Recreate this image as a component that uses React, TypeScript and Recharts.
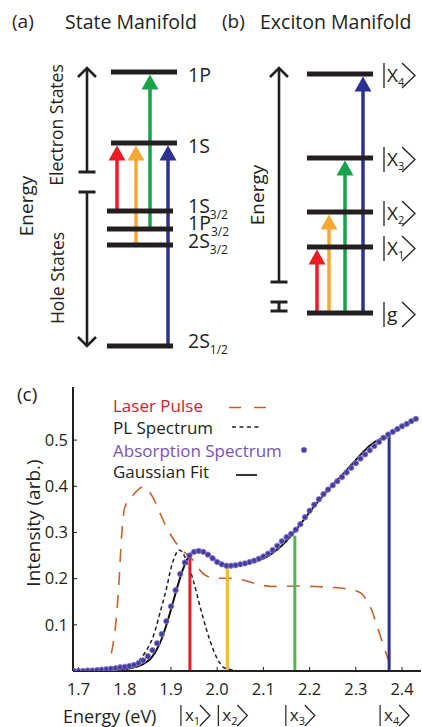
import React from 'react';
import {
    ComposedChart,
    Legend,
    Line,
    ReferenceDot,
    ReferenceLine,
    Scatter,
    XAxis,
    YAxis
} from 'recharts';

const FONT = '"Open Sans", "Noto Sans", sans-serif';
const INK = '#231f20';

const RED = '#ed1c24';
const ORANGE = '#f8a733';
const GREEN = '#17a34a';
const BLUE = '#2e3192';

// (a) single particle states, energy in arbitrary units
const stateLevels = [
    { id: '1P', band: 'e', energy: 2.88, name: '1P', sub: '' },
    { id: '1S', band: 'e', energy: 2.17, name: '1S', sub: '' },
    { id: '1S3/2', band: 'h', energy: 1.49, name: '1S', sub: '3/2' },
    { id: '1P3/2', band: 'h', energy: 1.31, name: '1P', sub: '3/2' },
    { id: '2S3/2', band: 'h', energy: 1.15, name: '2S', sub: '3/2' },
    { id: '2S1/2', band: 'h', energy: 0.14, name: '2S', sub: '1/2' }
];
const stateTransitions = [
    { from: '1S3/2', to: '1S', color: RED },
    { from: '2S3/2', to: '1S', color: ORANGE },
    { from: '1P3/2', to: '1P', color: GREEN },
    { from: '2S1/2', to: '1S', color: BLUE }
];
const stateBands = [
    { name: 'Electron States', from: 1.88, to: 2.92 },
    { name: 'Hole States', from: 1.68, to: 0.14 }
];

// (b) exciton states
const excitonLevels = [
    { id: 'X4', energy: 2.86, name: 'X', sub: '4' },
    { id: 'X3', energy: 2.02, name: 'X', sub: '3' },
    { id: 'X2', energy: 1.48, name: 'X', sub: '2' },
    { id: 'X1', energy: 1.13, name: 'X', sub: '1' },
    { id: 'g', energy: 0.47, name: 'g', sub: '' }
];
const excitonTransitions = [
    { from: 'g', to: 'X1', color: RED },
    { from: 'g', to: 'X2', color: ORANGE },
    { from: 'g', to: 'X3', color: GREEN },
    { from: 'g', to: 'X4', color: BLUE }
];
const excitonAxis = { from: 0.78, to: 2.92 };
const excitonBreak = { from: 0.58, to: 0.49 };

// (c) spectra
const absorptionEnergy = [
    1.69, 1.70, 1.71, 1.72, 1.73, 1.74, 1.75, 1.76, 1.77, 1.78,
    1.79, 1.80, 1.81, 1.82, 1.83, 1.84, 1.85, 1.86, 1.87, 1.88,
    1.89, 1.90, 1.91, 1.92, 1.93, 1.94, 1.95, 1.96, 1.97, 1.98,
    1.99, 2.00, 2.01, 2.02, 2.03, 2.04, 2.05, 2.06, 2.07, 2.08,
    2.09, 2.10, 2.11, 2.12, 2.13, 2.14, 2.15, 2.16, 2.17, 2.18,
    2.19, 2.20, 2.21, 2.22, 2.23, 2.24, 2.25, 2.26, 2.27, 2.28,
    2.29, 2.30, 2.31, 2.32, 2.33, 2.34, 2.35, 2.36, 2.37, 2.38,
    2.39, 2.40, 2.41, 2.42, 2.43
];
const absorptionValue = [
    0.000, 0.000, 0.000, 0.001, 0.001, 0.002, 0.003, 0.004, 0.005, 0.006,
    0.008, 0.009, 0.011, 0.013, 0.017, 0.023, 0.032, 0.045, 0.060, 0.080,
    0.108, 0.140, 0.175, 0.210, 0.235, 0.250, 0.258, 0.260, 0.258, 0.252,
    0.244, 0.236, 0.231, 0.228, 0.228, 0.229, 0.231, 0.233, 0.236, 0.239,
    0.243, 0.248, 0.254, 0.262, 0.271, 0.281, 0.290, 0.297, 0.306, 0.318,
    0.333, 0.347, 0.360, 0.372, 0.383, 0.393, 0.402, 0.411, 0.420, 0.430,
    0.440, 0.450, 0.460, 0.469, 0.478, 0.487, 0.496, 0.505, 0.512, 0.518,
    0.524, 0.530, 0.535, 0.541, 0.546
];

const fitEnergy = [
    1.742, 1.78, 1.80, 1.82, 1.84, 1.855, 1.865, 1.875, 1.885, 1.895,
    1.905, 1.915, 1.925, 1.935, 1.945, 1.955, 1.965, 1.975, 1.99, 2.005,
    2.02, 2.035, 2.05, 2.07, 2.09, 2.11, 2.13, 2.15, 2.17, 2.19,
    2.21, 2.23, 2.25, 2.27, 2.29, 2.31, 2.33, 2.35, 2.367
];
const fitValue = [
    0.001, 0.002, 0.004, 0.008, 0.015, 0.026, 0.039, 0.058, 0.084, 0.116,
    0.151, 0.186, 0.218, 0.242, 0.256, 0.262, 0.261, 0.256, 0.245, 0.235,
    0.229, 0.228, 0.230, 0.234, 0.240, 0.249, 0.263, 0.282, 0.305, 0.331,
    0.357, 0.381, 0.403, 0.424, 0.446, 0.468, 0.488, 0.501, 0.505
];

const plEnergy = [
    1.76, 1.80, 1.82, 1.837, 1.85, 1.862, 1.876, 1.891, 1.901, 1.910,
    1.917, 1.923, 1.930, 1.940, 1.948, 1.963, 1.977, 1.992, 2.005, 2.015,
    2.03, 2.05
];
const plValue = [
    0.000, 0.005, 0.012, 0.030, 0.050, 0.076, 0.125, 0.182, 0.226, 0.252,
    0.262, 0.259, 0.247, 0.222, 0.197, 0.139, 0.089, 0.045, 0.018, 0.007,
    0.003, 0.000
];

const laserEnergy = [
    1.771, 1.782, 1.788, 1.793, 1.800, 1.818, 1.840, 1.850, 1.862, 1.875,
    1.888, 1.900, 1.915, 1.930, 1.948, 1.960, 1.975, 1.995, 2.02, 2.04,
    2.06, 2.08, 2.10, 2.13, 2.17, 2.21, 2.25, 2.28, 2.30, 2.315,
    2.325, 2.335, 2.345, 2.355, 2.365, 2.375, 2.385, 2.41, 2.44
];
const laserValue = [
    0.038, 0.118, 0.200, 0.290, 0.354, 0.381, 0.399, 0.392, 0.374, 0.345,
    0.316, 0.294, 0.272, 0.256, 0.240, 0.222, 0.207, 0.201, 0.201, 0.200,
    0.196, 0.190, 0.185, 0.183, 0.184, 0.183, 0.181, 0.178, 0.174, 0.165,
    0.150, 0.130, 0.100, 0.070, 0.040, 0.012, 0.000, 0.000, 0.000
];

const transitionEnergy = [1.941, 2.022, 2.168, 2.372];
const transitionTop = [0.25, 0.227, 0.293, 0.508];
const transitionColor = ['#e41e26', '#fbb534', '#4cb84e', '#2e3192'];
const ketIndex = ['1', '2', '3', '4'];

const energyTicks = [1.7, 1.8, 1.9, 2.0, 2.1, 2.2, 2.3, 2.4];
const intensityTicks = [0.1, 0.2, 0.3, 0.4, 0.5];

const legendRows = [
    { name: 'Laser Pulse', color: '#d7202b', sample: 'laser' },
    { name: 'PL Spectrum', color: INK, sample: 'pl' },
    { name: 'Absorption Spectrum', color: '#7a52b3', sample: 'dot' },
    { name: 'Gaussian Fit', color: INK, sample: 'fit' }
];

const zip = (xs: number[], ys: number[]) => xs.map((e, i) => ({ e, v: ys[i] }));

const absorption = zip(absorptionEnergy, absorptionValue);
const fit = zip(fitEnergy, fitValue);
const pl = zip(plEnergy, plValue);
const laser = zip(laserEnergy, laserValue);

// diagram layout (chart units are px across, energy up)
const STATE_SPAN: Record<string, number[]> = { e: [111, 177], h: [107, 173] };
const STATE_COLUMNS = [117, 136, 150, 168];
const STATE_LABEL_X = 188;
const STATE_LABEL_DY: Record<string, number> = {
    '1P': 10, '1S': 10, '1S3/2': 2, '1P3/2': 1, '2S3/2': 3, '2S1/2': 2
};
const BAND_X = 87;
const EXCITON_SPAN = [307, 373];
const EXCITON_COLUMNS = [317, 329, 345, 363];
const EXCITON_AXIS_X = 279;
const KET_X = 384;

const energyOf = (levels: { id: string; energy: number }[], id: string) =>
    levels.find((l) => l.id === id)!.energy;

const transitionArrow = (color: string) => (p: any) => {
    const x = p.x1;
    const base = Math.max(p.y1, p.y2);
    const tip = Math.min(p.y1, p.y2) + 2.5;
    return (
        <g>
            <line x1={x} y1={base} x2={x} y2={tip + 12} stroke={color} strokeWidth={3.5} />
            <polygon points={`${x},${tip} ${x - 8.5},${tip + 15} ${x + 8.5},${tip + 15}`} fill={color} />
        </g>
    );
};

const bandArrow = (p: any) => {
    const x = p.x1;
    const dir = p.y2 < p.y1 ? -1 : 1;
    return (
        <g stroke={INK} fill="none">
            <line x1={x} y1={p.y1} x2={x} y2={p.y2} strokeWidth={2.6} />
            <line x1={x - 8.5} y1={p.y1} x2={x + 8.5} y2={p.y1} strokeWidth={3} />
            <polyline
                points={`${x - 9},${p.y2 - dir * 9} ${x},${p.y2} ${x + 9},${p.y2 - dir * 9}`}
                strokeWidth={2.6}
            />
        </g>
    );
};

const breakMark = (p: any) => {
    const x = p.x1;
    return (
        <g stroke={INK} fill="none" strokeWidth={3}>
            <line x1={x} y1={p.y1} x2={x} y2={p.y2} />
            <line x1={x - 8.5} y1={p.y1} x2={x + 8.5} y2={p.y1} />
            <line x1={x - 8.5} y1={p.y2} x2={x + 8.5} y2={p.y2} />
        </g>
    );
};

// level names, placed with ReferenceDot at (label column, level energy)
const stateLabel = (lv: any) => (p: any) => (
    <text x={p.cx} y={p.cy + STATE_LABEL_DY[lv.id]} fontSize={19.5} fontFamily={FONT} fill={INK}>
        {lv.name}
        {lv.sub ? <tspan fontSize={12} dy={6}>{lv.sub}</tspan> : null}
    </text>
);

const ketLabel = (lv: any) => (p: any) => {
    const x = p.cx;
    const y = p.cy;
    return (
        <g>
            <line x1={x} y1={y - 11} x2={x} y2={y + 14} stroke={INK} strokeWidth={1.3} />
            <text x={x + 3} y={y + 8} fontSize={19} fontFamily={FONT} fill={INK}>
                {lv.name}
                {lv.sub ? <tspan fontSize={11} dy={4}>{lv.sub}</tspan> : null}
            </text>
            <polyline
                points={`${x + 18},${y - 11} ${x + 31},${y + 1.5} ${x + 18},${y + 14}`}
                fill="none"
                stroke={INK}
                strokeWidth={1.3}
            />
        </g>
    );
};

function Diagrams() {
    return (
        <ComposedChart width={422} height={360} margin={{ top: 0, right: 0, bottom: 0, left: 0 }}>
            <XAxis type="number" dataKey="x" hide domain={[0, 422]} allowDataOverflow />
            <YAxis type="number" dataKey="y" hide domain={[0, 3.6]} allowDataOverflow />

            {stateBands.map((b) => (
                <ReferenceLine
                    key={b.name}
                    segment={[{ x: BAND_X, y: b.from }, { x: BAND_X, y: b.to }]}
                    shape={bandArrow}
                    ifOverflow="visible"
                />
            ))}
            {stateTransitions.map((t, i) => (
                <ReferenceLine
                    key={`st-${i}`}
                    segment={[
                        { x: STATE_COLUMNS[i], y: energyOf(stateLevels, t.from) },
                        { x: STATE_COLUMNS[i], y: energyOf(stateLevels, t.to) }
                    ]}
                    shape={transitionArrow(t.color)}
                    ifOverflow="visible"
                />
            ))}
            <ReferenceLine
                segment={[{ x: EXCITON_AXIS_X, y: excitonAxis.from }, { x: EXCITON_AXIS_X, y: excitonAxis.to }]}
                shape={bandArrow}
                ifOverflow="visible"
            />
            <ReferenceLine
                segment={[{ x: EXCITON_AXIS_X, y: excitonBreak.from }, { x: EXCITON_AXIS_X, y: excitonBreak.to }]}
                shape={breakMark}
                ifOverflow="visible"
            />
            {excitonTransitions.map((t, i) => (
                <ReferenceLine
                    key={`xt-${i}`}
                    segment={[
                        { x: EXCITON_COLUMNS[i], y: energyOf(excitonLevels, t.from) },
                        { x: EXCITON_COLUMNS[i], y: energyOf(excitonLevels, t.to) }
                    ]}
                    shape={transitionArrow(t.color)}
                    ifOverflow="visible"
                />
            ))}

            {stateLevels.map((lv) => (
                <Line
                    key={lv.id}
                    data={[
                        { x: STATE_SPAN[lv.band][0], y: lv.energy },
                        { x: STATE_SPAN[lv.band][1], y: lv.energy }
                    ]}
                    dataKey="y"
                    type="linear"
                    stroke={INK}
                    strokeWidth={5}
                    dot={false}
                    activeDot={false}
                    isAnimationActive={false}
                />
            ))}
            {excitonLevels.map((lv) => (
                <Line
                    key={lv.id}
                    data={[
                        { x: EXCITON_SPAN[0], y: lv.energy },
                        { x: EXCITON_SPAN[1], y: lv.energy }
                    ]}
                    dataKey="y"
                    type="linear"
                    stroke={INK}
                    strokeWidth={5}
                    dot={false}
                    activeDot={false}
                    isAnimationActive={false}
                />
            ))}
            {stateLevels.map((lv) => (
                <ReferenceDot
                    key={`lbl-${lv.id}`}
                    x={STATE_LABEL_X}
                    y={lv.energy}
                    shape={stateLabel(lv)}
                    ifOverflow="visible"
                />
            ))}
            {excitonLevels.map((lv) => (
                <ReferenceDot
                    key={`ket-${lv.id}`}
                    x={KET_X}
                    y={lv.energy}
                    shape={ketLabel(lv)}
                    ifOverflow="visible"
                />
            ))}
        </ComposedChart>
    );
}

const KetTick = (props: any) => {
    const { x, y, index } = props;
    const bx = x - 9;
    return (
        <g>
            <line x1={bx} y1={y + 9} x2={bx} y2={y + 30} stroke={INK} strokeWidth={1.2} />
            <text x={bx + 4} y={y + 25} fontSize={17} fontFamily={FONT} fill={INK}>
                x<tspan fontSize={11} dy={4}>{ketIndex[index]}</tspan>
            </text>
            <polyline
                points={`${bx + 19},${y + 9} ${bx + 29},${y + 19.5} ${bx + 19},${y + 30}`}
                fill="none"
                stroke={INK}
                strokeWidth={1.2}
            />
        </g>
    );
};

const renderLegend = () => (
    <svg width={220} height={100} style={{ overflow: 'visible' }}>
        {legendRows.map((r, i) => {
            const base = [22, 44, 67, 88][i];
            return (
                <g key={r.name}>
                    <text x={13} y={base} fontSize={17} fontFamily={FONT} fill={r.color}>
                        {r.name}
                    </text>
                    {r.sample === 'laser' && (
                        <line x1={129} y1={17.5} x2={166} y2={17.5} stroke="#c8622c" strokeWidth={1.6} strokeDasharray="12 13" />
                    )}
                    {r.sample === 'pl' && (
                        <line x1={132} y1={37} x2={162} y2={37} stroke={INK} strokeWidth={1.4} strokeDasharray="4 3.5" />
                    )}
                    {r.sample === 'dot' && (
                        <circle cx={204} cy={60} r={2.7} fill="#3d3f9e" stroke="#9277cc" strokeWidth={0.9} />
                    )}
                    {r.sample === 'fit' && (
                        <line x1={136} y1={85} x2={157} y2={85} stroke={INK} strokeWidth={1.8} />
                    )}
                </g>
            );
        })}
    </svg>
);

const E_DOMAIN = [1.688, 2.441];

function Spectrum() {
    return (
        <ComposedChart width={422} height={367} margin={{ top: 27, right: 1, bottom: 0, left: 33 }}>
            <XAxis
                type="number"
                dataKey="e"
                domain={E_DOMAIN}
                ticks={energyTicks}
                interval={0}
                allowDataOverflow
                height={25}
                tickSize={-4}
                tickMargin={16}
                axisLine={{ stroke: INK, strokeWidth: 2 }}
                tickLine={{ stroke: INK }}
                tick={{ fill: INK, fontSize: 16.5, fontFamily: FONT }}
                tickFormatter={(v: number) => v.toFixed(1)}
            />
            <XAxis
                xAxisId="kets"
                type="number"
                dataKey="e"
                domain={E_DOMAIN}
                ticks={transitionEnergy}
                interval={0}
                allowDataOverflow
                height={31}
                axisLine={false}
                tickLine={false}
                tickSize={0}
                tickMargin={0}
                tick={<KetTick />}
            />
            <XAxis
                xAxisId="top"
                orientation="top"
                type="number"
                dataKey="e"
                domain={E_DOMAIN}
                ticks={energyTicks}
                interval={0}
                allowDataOverflow
                height={0}
                tickSize={-4}
                tick={false}
                axisLine={{ stroke: INK, strokeWidth: 1 }}
                tickLine={{ stroke: INK }}
            />
            <YAxis
                type="number"
                dataKey="v"
                domain={[0, 0.615]}
                ticks={intensityTicks}
                interval={0}
                allowDataOverflow
                width={40}
                tickSize={-4}
                tickMargin={9}
                axisLine={{ stroke: INK, strokeWidth: 2 }}
                tickLine={{ stroke: INK }}
                tick={{ fill: INK, fontSize: 16.5, fontFamily: FONT }}
                tickFormatter={(v: number) => v.toFixed(1)}
            />
            <YAxis
                yAxisId="r"
                orientation="right"
                type="number"
                dataKey="v"
                domain={[0, 0.615]}
                ticks={intensityTicks}
                interval={0}
                allowDataOverflow
                width={0}
                tickSize={-4}
                tick={false}
                axisLine={{ stroke: INK, strokeWidth: 1 }}
                tickLine={{ stroke: INK }}
            />

            <Line
                data={laser}
                dataKey="v"
                name="Laser Pulse"
                type="monotone"
                stroke="#c8622c"
                strokeWidth={1.6}
                strokeDasharray="13 10"
                dot={false}
                isAnimationActive={false}
            />
            <Line
                data={pl}
                dataKey="v"
                name="PL Spectrum"
                type="monotone"
                stroke={INK}
                strokeWidth={1.5}
                strokeDasharray="4 3"
                dot={false}
                isAnimationActive={false}
            />
            {transitionEnergy.map((e, i) => (
                <ReferenceLine
                    key={`tr-${i}`}
                    segment={[{ x: e, y: 0 }, { x: e, y: transitionTop[i] }]}
                    stroke={transitionColor[i]}
                    strokeWidth={3}
                />
            ))}
            <Scatter
                data={absorption}
                dataKey="v"
                name="Absorption Spectrum"
                isAnimationActive={false}
                shape={(p: any) => (
                    <circle cx={p.cx} cy={p.cy} r={2.7} fill="#3d3f9e" stroke="#9277cc" strokeWidth={0.9} />
                )}
            />
            <Line
                data={fit}
                dataKey="v"
                name="Gaussian Fit"
                type="monotone"
                stroke="#111"
                strokeWidth={2}
                dot={false}
                isAnimationActive={false}
            />
            <Legend
                layout="vertical"
                align="center"
                verticalAlign="middle"
                wrapperStyle={{ left: 100, top: 30, width: 220, height: 100 }}
                content={renderLegend}
            />
        </ComposedChart>
    );
}

const rotated = (text: string, cx: number, cy: number, size: number) => (
    <text
        x={cx}
        y={cy}
        transform={`rotate(-90 ${cx} ${cy})`}
        textAnchor="middle"
        dominantBaseline="central"
        fontSize={size}
        fontFamily={FONT}
        fill={INK}
    >
        {text}
    </text>
);

export default function App() {
    return (
        <div
            style={{
                position: 'absolute',
                left: 0,
                top: 0,
                width: 422,
                height: 727,
                background: '#fff',
                overflow: 'hidden'
            }}
        >
            <div style={{ position: 'absolute', left: 0, top: 0 }}>
                <Diagrams />
            </div>
            <div style={{ position: 'absolute', left: 0, top: 360 }}>
                <Spectrum />
            </div>
            <svg
                width={422}
                height={727}
                style={{ position: 'absolute', left: 0, top: 0, pointerEvents: 'none' }}
            >
                <g fontFamily={FONT} fill={INK}>
                    <text x={12} y={28} fontSize={19}>(a)</text>
                    <text x={65} y={29} fontSize={19.5}>State Manifold</text>
                    <text x={222} y={28} fontSize={19}>(b)</text>
                    <text x={260} y={29} fontSize={19.5}>Exciton Manifold</text>
                    <text x={17} y={401} fontSize={19}>(c)</text>
                    <text x={63} y={723} fontSize={18}>Energy (eV)</text>
                </g>
                {rotated('Energy', 26, 206, 19)}
                {rotated('Electron States', 56, 125, 17.5)}
                {rotated('Hole States', 57, 278, 17.5)}
                {rotated('Energy', 257, 195, 19)}
                {rotated('Intensity (arb.)', 33, 523, 19)}
            </svg>
        </div>
    );
}
